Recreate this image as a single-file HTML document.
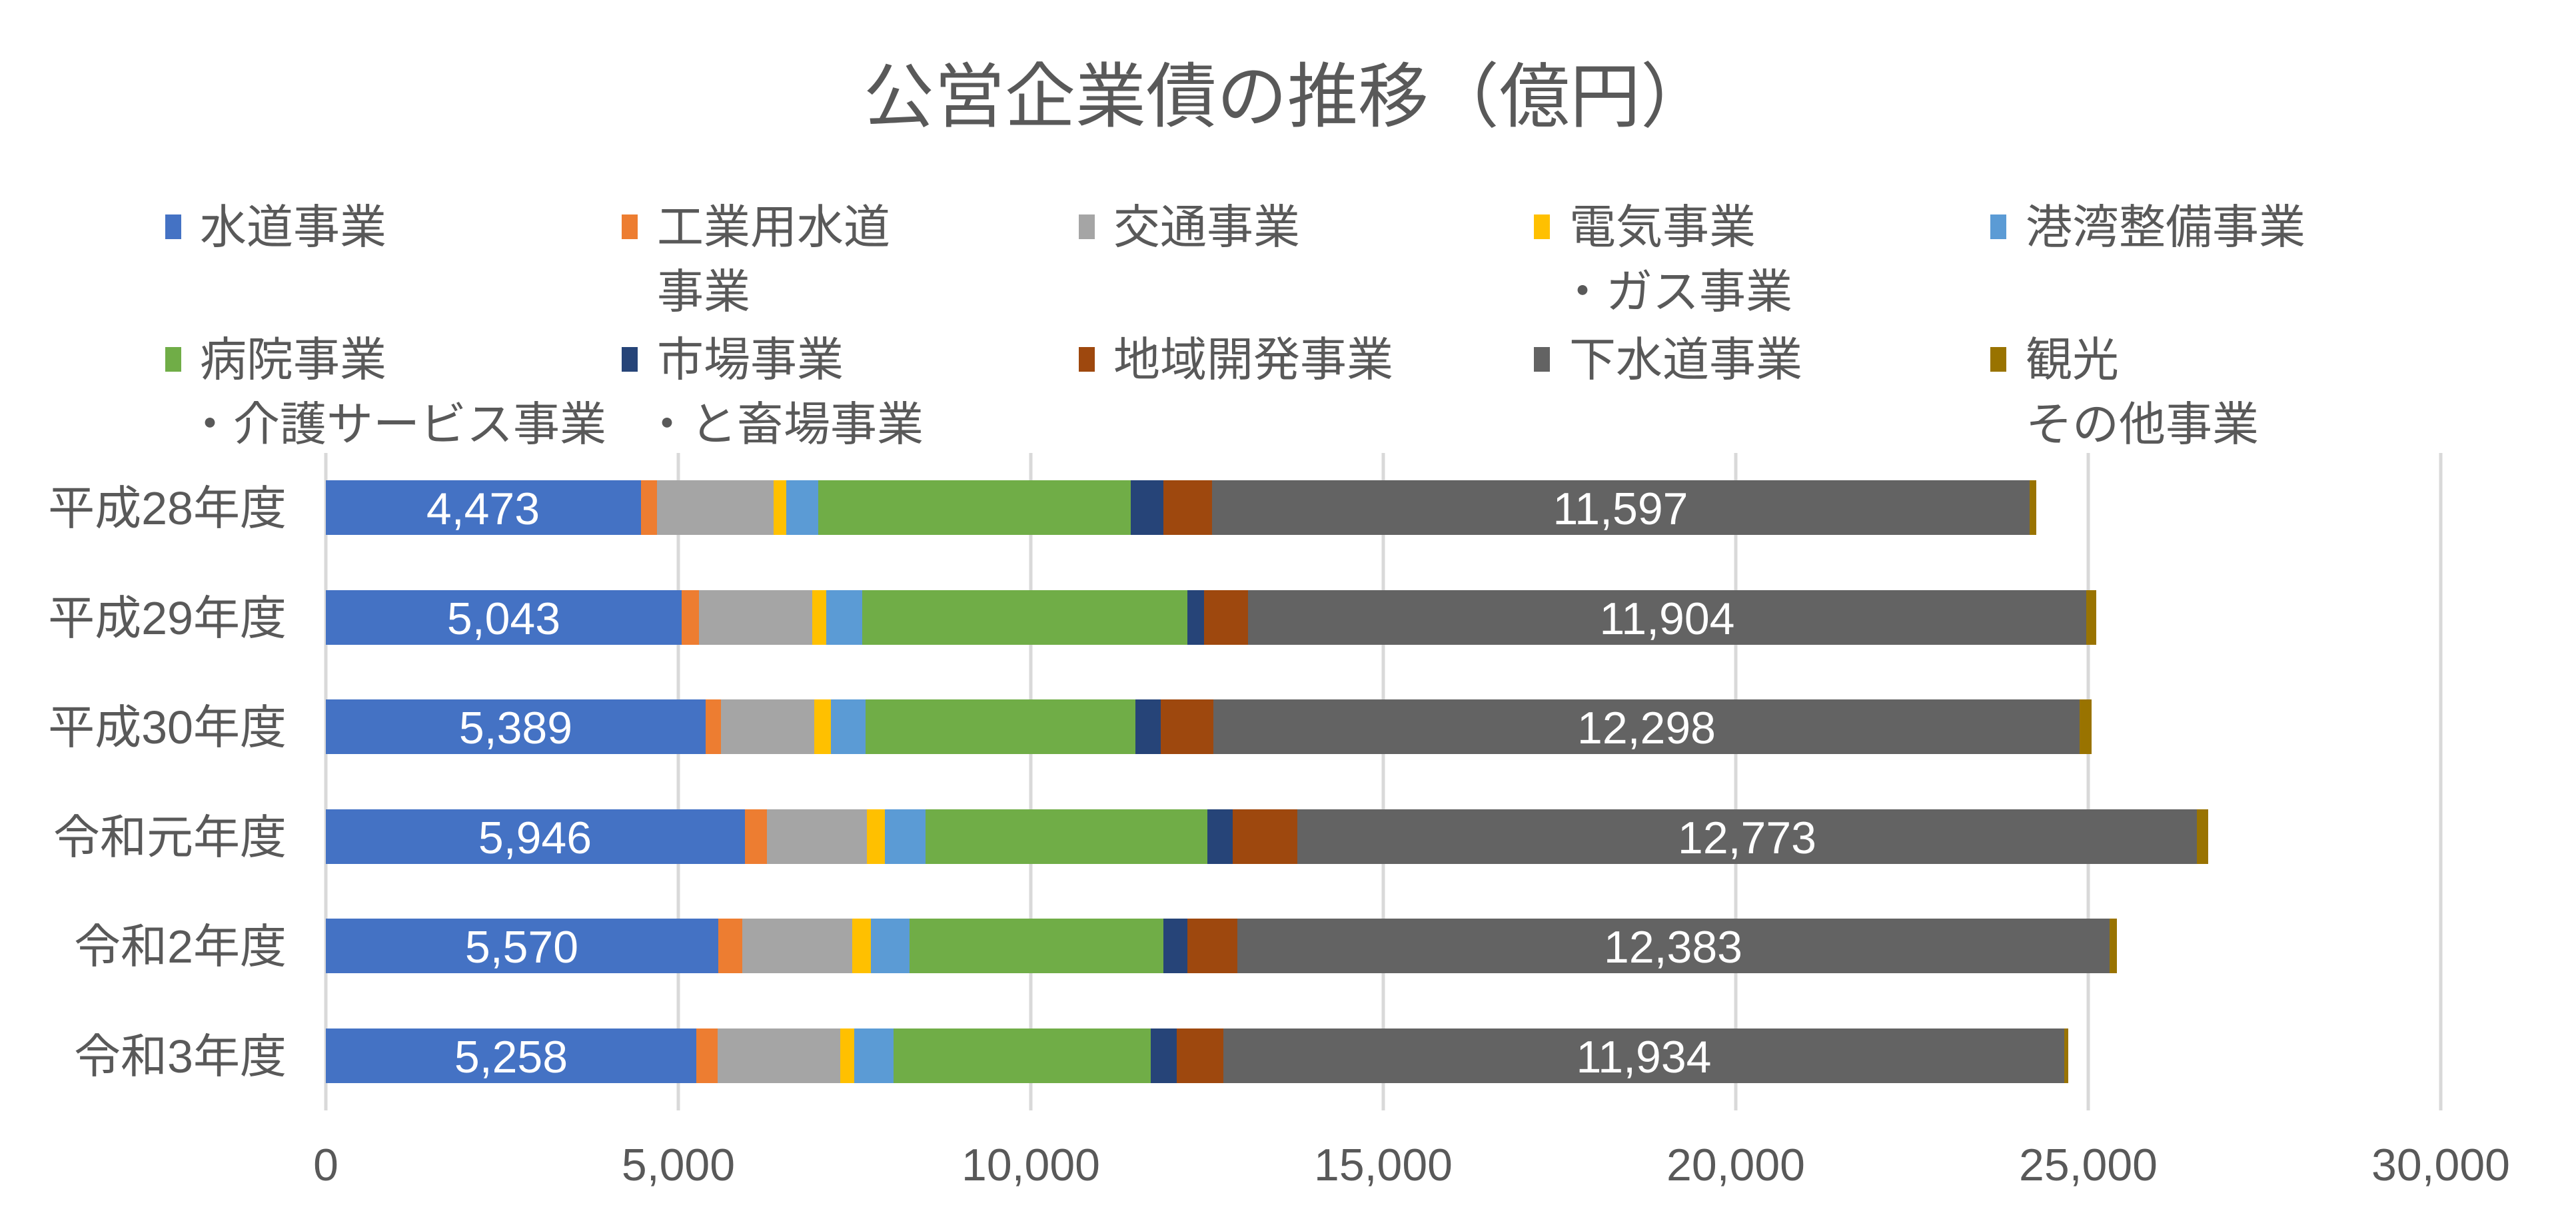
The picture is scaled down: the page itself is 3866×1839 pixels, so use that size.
<!DOCTYPE html>
<html><head><meta charset="utf-8"><style>
html,body{margin:0;padding:0;background:#fff;}
svg{display:block;}
text{font-family:"Liberation Sans","Noto Sans CJK JP",sans-serif;}
</style></head><body>
<svg width="3866" height="1839" viewBox="0 0 3866 1839" xmlns="http://www.w3.org/2000/svg">
<rect width="3866" height="1839" fill="#fff"/>
<text x="1932" y="182" font-size="106" fill="#595959" text-anchor="middle" font-family="Noto Sans CJK JP, sans-serif">公営企業債の推移（億円）</text>
<g font-size="70" fill="#595959" font-family="Noto Sans CJK JP, sans-serif">
<rect x="248" y="322" width="24" height="37" fill="#4472C4"/><text x="300" y="365">水道事業</text>
<rect x="933" y="322" width="24" height="37" fill="#ED7D31"/><text x="986" y="365">工業用水道</text><text x="986" y="462">事業</text>
<rect x="1619" y="322" width="24" height="37" fill="#A5A5A5"/><text x="1671" y="365">交通事業</text>
<rect x="2302" y="322" width="24" height="37" fill="#FFC000"/><text x="2355" y="365">電気事業</text><text x="2340" y="462">・ガス事業</text>
<rect x="2987" y="322" width="24" height="37" fill="#5B9BD5"/><text x="3040" y="365">港湾整備事業</text>
<rect x="248" y="521" width="24" height="37" fill="#70AD47"/><text x="300" y="564">病院事業</text><text x="280" y="661">・介護サービス事業</text>
<rect x="933" y="521" width="24" height="37" fill="#264478"/><text x="986" y="564">市場事業</text><text x="966" y="661">・と畜場事業</text>
<rect x="1619" y="521" width="24" height="37" fill="#9E480E"/><text x="1671" y="564">地域開発事業</text>
<rect x="2302" y="521" width="24" height="37" fill="#636363"/><text x="2355" y="564">下水道事業</text>
<rect x="2987" y="521" width="24" height="37" fill="#997300"/><text x="3040" y="564">観光</text><text x="3040" y="661">その他事業</text>
</g>
<g stroke="#D9D9D9" stroke-width="5">
<line x1="489" y1="680" x2="489" y2="1667"/><line x1="1018" y1="680" x2="1018" y2="1667"/><line x1="1547" y1="680" x2="1547" y2="1667"/><line x1="2076" y1="680" x2="2076" y2="1667"/><line x1="2605" y1="680" x2="2605" y2="1667"/><line x1="3134" y1="680" x2="3134" y2="1667"/><line x1="3663" y1="680" x2="3663" y2="1667"/>
</g>
<g>
<!-- row1 -->
<rect x="489" y="721" width="473" height="82" fill="#4472C4"/>
<rect x="962" y="721" width="24" height="82" fill="#ED7D31"/>
<rect x="986" y="721" width="175" height="82" fill="#A5A5A5"/>
<rect x="1161" y="721" width="19" height="82" fill="#FFC000"/>
<rect x="1180" y="721" width="48" height="82" fill="#5B9BD5"/>
<rect x="1228" y="721" width="469" height="82" fill="#70AD47"/>
<rect x="1697" y="721" width="49" height="82" fill="#264478"/>
<rect x="1746" y="721" width="73" height="82" fill="#9E480E"/>
<rect x="1819" y="721" width="1227" height="82" fill="#636363"/>
<rect x="3046" y="721" width="10" height="82" fill="#997300"/>
<!-- row2 -->
<rect x="489" y="886" width="534" height="82" fill="#4472C4"/>
<rect x="1023" y="886" width="26" height="82" fill="#ED7D31"/>
<rect x="1049" y="886" width="170" height="82" fill="#A5A5A5"/>
<rect x="1219" y="886" width="21" height="82" fill="#FFC000"/>
<rect x="1240" y="886" width="54" height="82" fill="#5B9BD5"/>
<rect x="1294" y="886" width="488" height="82" fill="#70AD47"/>
<rect x="1782" y="886" width="25" height="82" fill="#264478"/>
<rect x="1807" y="886" width="66" height="82" fill="#9E480E"/>
<rect x="1873" y="886" width="1258" height="82" fill="#636363"/>
<rect x="3131" y="886" width="15" height="82" fill="#997300"/>
<!-- row3 -->
<rect x="489" y="1050" width="570" height="82" fill="#4472C4"/>
<rect x="1059" y="1050" width="23" height="82" fill="#ED7D31"/>
<rect x="1082" y="1050" width="140" height="82" fill="#A5A5A5"/>
<rect x="1222" y="1050" width="25" height="82" fill="#FFC000"/>
<rect x="1247" y="1050" width="52" height="82" fill="#5B9BD5"/>
<rect x="1299" y="1050" width="405" height="82" fill="#70AD47"/>
<rect x="1704" y="1050" width="38" height="82" fill="#264478"/>
<rect x="1742" y="1050" width="79" height="82" fill="#9E480E"/>
<rect x="1821" y="1050" width="1300" height="82" fill="#636363"/>
<rect x="3121" y="1050" width="18" height="82" fill="#997300"/>
<!-- row4 -->
<rect x="489" y="1215" width="629" height="82" fill="#4472C4"/>
<rect x="1118" y="1215" width="33" height="82" fill="#ED7D31"/>
<rect x="1151" y="1215" width="150" height="82" fill="#A5A5A5"/>
<rect x="1301" y="1215" width="27" height="82" fill="#FFC000"/>
<rect x="1328" y="1215" width="61" height="82" fill="#5B9BD5"/>
<rect x="1389" y="1215" width="423" height="82" fill="#70AD47"/>
<rect x="1812" y="1215" width="38" height="82" fill="#264478"/>
<rect x="1850" y="1215" width="97" height="82" fill="#9E480E"/>
<rect x="1947" y="1215" width="1350" height="82" fill="#636363"/>
<rect x="3297" y="1215" width="17" height="82" fill="#997300"/>
<!-- row5 -->
<rect x="489" y="1379" width="589" height="82" fill="#4472C4"/>
<rect x="1078" y="1379" width="36" height="82" fill="#ED7D31"/>
<rect x="1114" y="1379" width="165" height="82" fill="#A5A5A5"/>
<rect x="1279" y="1379" width="28" height="82" fill="#FFC000"/>
<rect x="1307" y="1379" width="58" height="82" fill="#5B9BD5"/>
<rect x="1365" y="1379" width="381" height="82" fill="#70AD47"/>
<rect x="1746" y="1379" width="36" height="82" fill="#264478"/>
<rect x="1782" y="1379" width="75" height="82" fill="#9E480E"/>
<rect x="1857" y="1379" width="1309" height="82" fill="#636363"/>
<rect x="3166" y="1379" width="11" height="82" fill="#997300"/>
<!-- row6 -->
<rect x="489" y="1544" width="556" height="82" fill="#4472C4"/>
<rect x="1045" y="1544" width="32" height="82" fill="#ED7D31"/>
<rect x="1077" y="1544" width="184" height="82" fill="#A5A5A5"/>
<rect x="1261" y="1544" width="21" height="82" fill="#FFC000"/>
<rect x="1282" y="1544" width="59" height="82" fill="#5B9BD5"/>
<rect x="1341" y="1544" width="386" height="82" fill="#70AD47"/>
<rect x="1727" y="1544" width="39" height="82" fill="#264478"/>
<rect x="1766" y="1544" width="70" height="82" fill="#9E480E"/>
<rect x="1836" y="1544" width="1262" height="82" fill="#636363"/>
<rect x="3098" y="1544" width="6" height="82" fill="#997300"/>
</g>
<g font-size="68" fill="#fff" text-anchor="middle">
<text x="725" y="787">4,473</text><text x="2432" y="787">11,597</text>
<text x="756" y="952">5,043</text><text x="2502" y="952">11,904</text>
<text x="774" y="1116">5,389</text><text x="2471" y="1116">12,298</text>
<text x="803" y="1281">5,946</text><text x="2622" y="1281">12,773</text>
<text x="783" y="1445">5,570</text><text x="2511" y="1445">12,383</text>
<text x="767" y="1610">5,258</text><text x="2467" y="1610">11,934</text>
</g>
<g font-size="68" fill="#595959" text-anchor="middle">
<text x="489" y="1772">0</text><text x="1018" y="1772">5,000</text><text x="1547" y="1772">10,000</text><text x="2076" y="1772">15,000</text><text x="2605" y="1772">20,000</text><text x="3134" y="1772">25,000</text><text x="3663" y="1772">30,000</text>
</g>
<g font-size="70" fill="#595959" text-anchor="end" font-family="Noto Sans CJK JP, sans-serif">
<text x="430" y="787">平成28年度</text>
<text x="430" y="952">平成29年度</text>
<text x="430" y="1116">平成30年度</text>
<text x="430" y="1281">令和元年度</text>
<text x="430" y="1445">令和2年度</text>
<text x="430" y="1610">令和3年度</text>
</g>
</svg>
</body></html>
